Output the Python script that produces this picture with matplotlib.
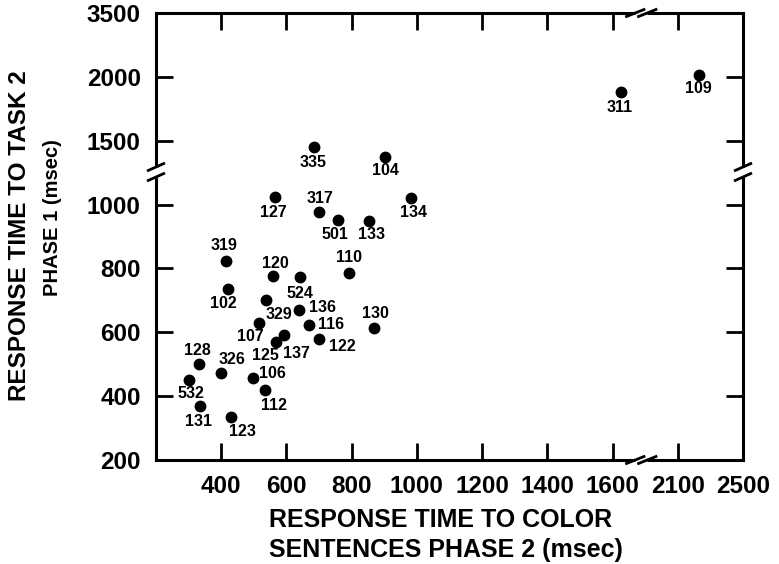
import numpy as np
import matplotlib
matplotlib.use("Agg")
import matplotlib.pyplot as plt

plt.rcParams['font.family'] = ['Liberation Sans', 'DejaVu Sans']
plt.rcParams['font.weight'] = 'bold'

# subject ids and response times (msec)
subjects = ['335', '104', '127', '134', '317', '501', '133', '319', '110', '120',
            '524', '102', '329', '136', '107', '116', '137', '125', '122', '130',
            '128', '326', '532', '106', '112', '131', '123', '311', '109']
color_rt = [686, 903, 566, 983, 700, 758, 852, 416, 792, 559,
            641, 420, 536, 639, 517, 668, 591, 568, 700, 867,
            333, 400, 302, 496, 533, 335, 431, 1626, 2231]
task_rt = [1414, 1299, 1023, 1021, 976, 952, 950, 824, 786, 777,
           772, 737, 700, 671, 630, 624, 591, 570, 578, 612,
           500, 473, 451, 458, 420, 369, 336, 1881, 2052]

xticks = [400, 600, 800, 1000, 1200, 1400, 1600, 2100, 2500]
yticks = [200, 400, 600, 800, 1000, 1500, 2000, 3500]

# label offsets from the dot, in pixels (dx right, dy down)
offs = {'335': (-1, 15), '104': (0, 14), '127': (-2, 15), '317': (1, -14),
        '501': (-3, 15), '133': (3, 14), '134': (2, 15), '319': (-2, -15),
        '110': (0, -15), '120': (2, -12), '524': (0, 16), '102': (-4, 15),
        '329': (13, 14), '136': (23, -2), '107': (-9, 14), '116': (22, 0),
        '137': (13, 18), '125': (-11, 14), '122': (23, 7), '130': (2, -15),
        '128': (-2, -14), '326': (11, -13), '532': (2, 14), '106': (20, -4),
        '112': (9, 16), '131': (-2, 15), '123': (11, 15), '311': (-1, 15),
        '109': (-1, 14)}

# broken axes: piecewise linear scales
x_break = 1688
y_break = 1102
xp = [0, x_break, 2100, 5000]
xu = [0, x_break, 1800, 1800 + (5000 - 2100) * 0.5]
yp = [0, y_break, 1500, 2000, 3500, 10000]
yu = [0, y_break, 1200, 1400, 1600, 1600 + (10000 - 3500) / 7.5]


def xfwd(v):
    return np.interp(v, xp, xu)


def xinv(v):
    return np.interp(v, xu, xp)


def yfwd(v):
    return np.interp(v, yp, yu)


def yinv(v):
    return np.interp(v, yu, yp)


W, H = 779, 564
fig = plt.figure(figsize=(W / 100, H / 100), dpi=100)
ax = fig.add_axes([156 / W, 104 / H, 587 / W, 447 / H])
ax.set_xscale('function', functions=(xfwd, xinv))
ax.set_yscale('function', functions=(yfwd, yinv))
ax.set_xlim(200, 2500)
ax.set_ylim(200, 3500)

ax.plot(color_rt, task_rt, 'o', color='black', markersize=7.5, zorder=3)
for s, xv, yv in zip(subjects, color_rt, task_rt):
    dx, dy = offs[s]
    ax.annotate(s, (xv, yv), xytext=(dx * 0.72, -dy * 0.72), textcoords='offset points',
                ha='center', va='center', fontsize=11.5, fontweight='bold')

ax.set_xticks(xticks)
ax.set_xticklabels([str(t) for t in xticks])
ax.set_yticks(yticks)
ax.set_yticklabels([str(t) for t in yticks])
ax.minorticks_off()
ax.tick_params(direction='in', length=12, width=2, top=True, right=True,
               labelsize=17.5, colors='black')
ax.tick_params(axis='x', pad=11)
ax.tick_params(axis='y', pad=11)
for sp in ax.spines.values():
    sp.set_linewidth(2.2)

# break marks
aw, ah = 587.0, 447.0
to_ax = ax.transData + ax.transAxes.inverted()
bx = to_ax.transform((x_break, 1000))[0]
by = to_ax.transform((1000, y_break))[1]


def seg(cx, cy, p, q, **kw):
    ax.plot([cx + p[0] / aw, cx + q[0] / aw], [cy + p[1] / ah, cy + q[1] / ah],
            transform=ax.transAxes, clip_on=False, solid_capstyle='butt', **kw)


for fy in (0, 1):
    seg(bx, fy, (-6, 0), (6, 0), color='white', lw=5, zorder=5)
    for off in (-6, 6):
        seg(bx + off / aw, fy, (-10, -4), (10, 4), color='black', lw=2, zorder=6)
for fx in (0, 1):
    seg(fx, by, (0, -5), (0, 5), color='white', lw=5, zorder=5)
    for off in (-5, 5):
        seg(fx, by + off / ah, (-9, -4), (9, 4), color='black', lw=2, zorder=6)

# axis titles
fig.text(269 / W, 1 - 520 / H, 'RESPONSE TIME TO COLOR', ha='left', va='center',
         fontsize=18, fontweight='bold')
fig.text(269 / W, 1 - 550 / H, 'SENTENCES PHASE 2 (msec)', ha='left', va='center',
         fontsize=18, fontweight='bold')
fig.text(20 / W, 1 - 236 / H, 'RESPONSE TIME TO TASK 2', rotation=90, ha='center',
         va='center', fontsize=17.5, fontweight='bold')
fig.text(53 / W, 1 - 218 / H, 'PHASE 1 (msec)', rotation=90, ha='center',
         va='center', fontsize=14.5, fontweight='bold')

fig.savefig('out.png', dpi=100)
